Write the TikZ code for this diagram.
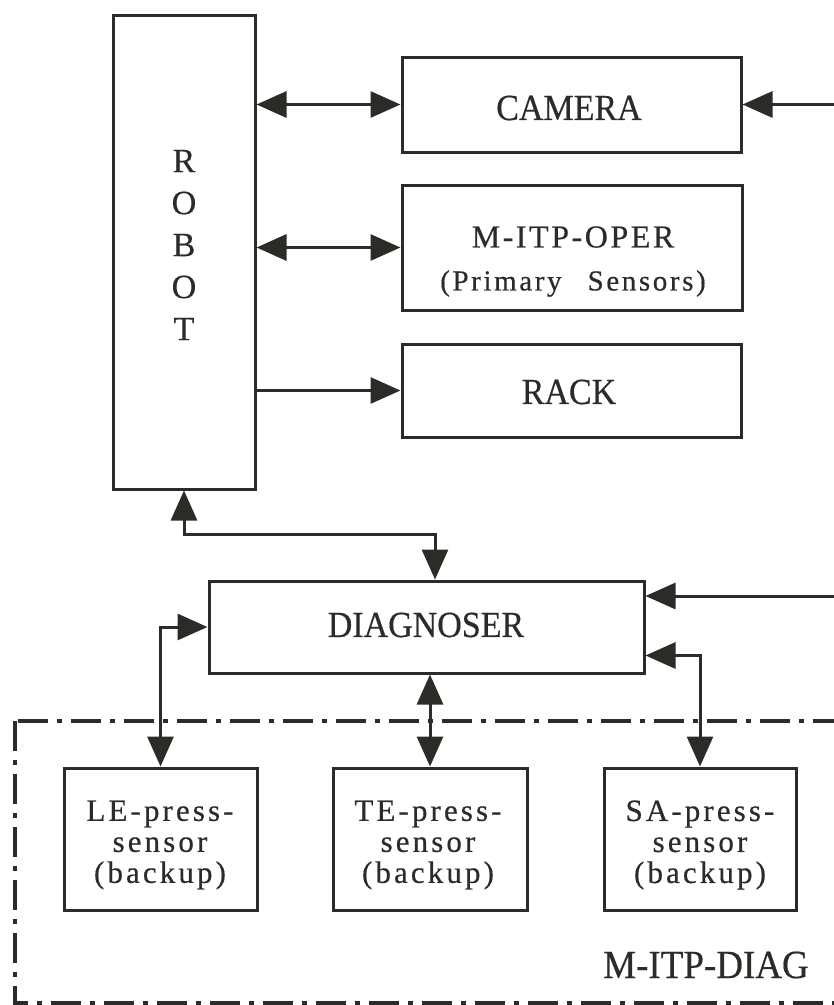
\documentclass[tikz,border=0pt]{standalone}
\usepackage{fontspec}
\setmainfont{Liberation Serif}[FakeBold=0.5]
\newfontfamily\sensorfont{Liberation Serif}[LetterSpace=10,FakeBold=0.5]
\newfontfamily\operfont{Liberation Serif}[LetterSpace=8,FakeBold=0.5]
\newfontfamily\primfont{Liberation Serif}[LetterSpace=9,FakeBold=0.5]
\usetikzlibrary{arrows.meta,calc}
\definecolor{ink}{HTML}{2B2B28}
\newcommand{\tallcaps}[1]{\scalebox{1}[1.08]{#1}}
\begin{document}
\begin{tikzpicture}[x=1pt,y=-1pt,
  >={Triangle[length=30pt,width=26pt]},
  box/.style={draw=ink,line width=3pt,inner sep=0pt,rectangle},
  lbl/.style={text=ink,inner sep=0pt,align=center},
  bigname/.style={lbl,font=\fontsize{34}{40}\selectfont},
  sensorname/.style={lbl,font=\fontsize{31}{31}\sensorfont},
  link/.style={draw=ink,line width=3pt},
  twoway/.style={link,<->},
  oneway/.style={link,->},
  enclose/.style={draw=ink,line width=3.5pt,dash pattern=on 30pt off 9pt on 5pt off 9pt}]
\useasboundingbox (0,0) rectangle (834,1005);
\clip (0,0) rectangle (834,1005);

% main blocks
\node[box,minimum width=142pt,minimum height=474pt] (robot) at (184,252) {};
\node[lbl,font=\fontsize{34}{42}\selectfont] (robotname) at (184,245) {R\\O\\B\\O\\T};

\node[box,minimum width=339pt,minimum height=95pt] (camera) at (571.5,104.5) {};
\node[bigname] (cameraname) at (569,108) {\tallcaps{CAMERA}};

\node[box,minimum width=340pt,minimum height=125pt] (oper) at (572,247.5) {};
\node[lbl,font=\fontsize{32}{43}\selectfont] (opername) at (573,261.5)
  {{\operfont M-ITP-OPER}\\{\fontsize{29}{43}\primfont (Primary\hspace{26pt}Sensors)}};

\node[box,minimum width=339pt,minimum height=93pt] (rack) at (571.5,390.5) {};
\node[bigname] (rackname) at (569,392) {\tallcaps{RACK}};

\node[box,minimum width=435pt,minimum height=92pt] (diag) at (426.5,627) {};
\node[bigname] (diagname) at (426,625) {\tallcaps{DIAGNOSER}};

% backup sensors
\node[box,minimum width=193pt,minimum height=142pt] (le) at (160.5,839) {};
\node[sensorname] (lename) at (160,845) {LE-press-\\sensor\\(backup)};
\node[box,minimum width=194pt,minimum height=142pt] (te) at (430,839) {};
\node[sensorname] (tename) at (428,845) {TE-press-\\sensor\\(backup)};
\node[box,minimum width=192pt,minimum height=142pt] (sa) at (700,839) {};
\node[sensorname] (saname) at (700,845) {SA-press-\\sensor\\(backup)};

\node[lbl,font=\fontsize{37}{44}\selectfont] (diagtitle) at (706,965) {\tallcaps{M-ITP-DIAG}};

% dash-dot enclosure of the diagnosis part
\draw[enclose] (15,721) rectangle (836,1003);

% robot links
\draw[twoway] (robot.east |- camera.west) -- (camera.west);
\draw[twoway] (robot.east |- oper.west) -- (oper.west);
\draw[oneway] (robot.east |- rack.west) -- (rack.west);

% feed from the right
\coordinate (feedtop) at (835,104.5);
\coordinate (feedbot) at (835,596);
\draw[oneway] (feedbot) -- (feedtop) -- (camera.east);
\draw[oneway] (feedbot) -- (feedbot -| diag.east);

% diagnoser links
\draw[twoway] (robot.south) -- ++(0,44) -| ($(diag.north)+(8.5,0)$);
\draw[twoway] (diag.west) -| (le.north);
\draw[twoway] (diag.south -| te.north) -- (te.north);
\draw[twoway] ($(diag.south east)+(0,-19)$) -| (sa.north);
\end{tikzpicture}
\end{document}
